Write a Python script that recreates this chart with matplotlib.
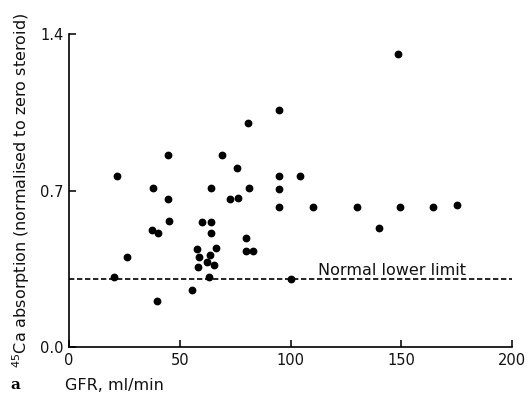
import matplotlib
matplotlib.use("Agg")
import matplotlib.pyplot as plt

gfr = [21.8, 20.3, 26.0, 37.6, 38.1, 39.6, 40.3, 44.7, 44.8, 45.1,
       55.6, 58.0, 58.4, 58.7, 60.0, 62.2, 63.3, 63.7, 64.2, 64.2,
       64.3, 65.4, 66.4, 69.3, 72.8, 76.0, 76.4, 79.9, 79.8, 82.9,
       81.0, 81.4, 94.9, 94.9, 94.9, 94.8, 100.1, 104.3, 110.2, 130.1,
       140.0, 148.7, 149.4, 164.5, 175.0]
ca_abs = [0.764, 0.313, 0.405, 0.526, 0.712, 0.205, 0.510, 0.861, 0.663, 0.564,
          0.257, 0.437, 0.356, 0.405, 0.558, 0.382, 0.315, 0.412, 0.558, 0.510,
          0.714, 0.368, 0.442, 0.859, 0.662, 0.800, 0.668, 0.488, 0.429, 0.429,
          1.005, 0.710, 1.060, 0.764, 0.707, 0.625, 0.304, 0.765, 0.629, 0.629,
          0.531, 1.313, 0.625, 0.625, 0.634]
normal_lower_limit = 0.305
xticks = [0, 50, 100, 150, 200]
yticks = [0.0, 0.7, 1.4]
ytick_labels = ["0.0", "0.7", "1.4"]

fig = plt.figure(figsize=(5.28, 3.95), dpi=100)
ax = fig.add_axes([69/528, 48/395, (512-69)/528, (347-34.3)/395])
ax.set_xlim(0, 200)
ax.set_ylim(0, 1.4)

ax.plot(gfr, ca_abs, 'o', color='black', ms=4.6, mec='black', clip_on=False, zorder=3)
ax.plot([0, 200], [normal_lower_limit, normal_lower_limit], color='black', lw=1.2,
        dashes=(3.2, 1.6))
ax.text(146, normal_lower_limit + 0.006, "Normal lower limit", ha='center', va='bottom',
        fontsize=11.5, color='#111111')

for s in ['top', 'right']:
    ax.spines[s].set_visible(False)
for s in ['left', 'bottom']:
    ax.spines[s].set_linewidth(1.2)

ax.set_xticks(xticks)
ax.set_xticklabels([str(v) for v in xticks])
ax.set_yticks(yticks)
ax.set_yticklabels(ytick_labels)
ax.tick_params(direction='in', length=5, width=1.2, labelsize=10.5, colors='#111111', pad=4)

ax.set_ylabel("$^{45}$Ca absorption (normalised to zero steroid)", fontsize=11.5,
              color='#111111', labelpad=6)
fig.text(65/528, 1 - 385/395, "GFR, ml/min", fontsize=11.5, va='center', ha='left', color='#111111')
fig.text(10/528, 1 - 385/395, "a", fontsize=11, fontweight='bold', family='DejaVu Serif',
         va='center', ha='left')

fig.savefig("out.png", dpi=100)
